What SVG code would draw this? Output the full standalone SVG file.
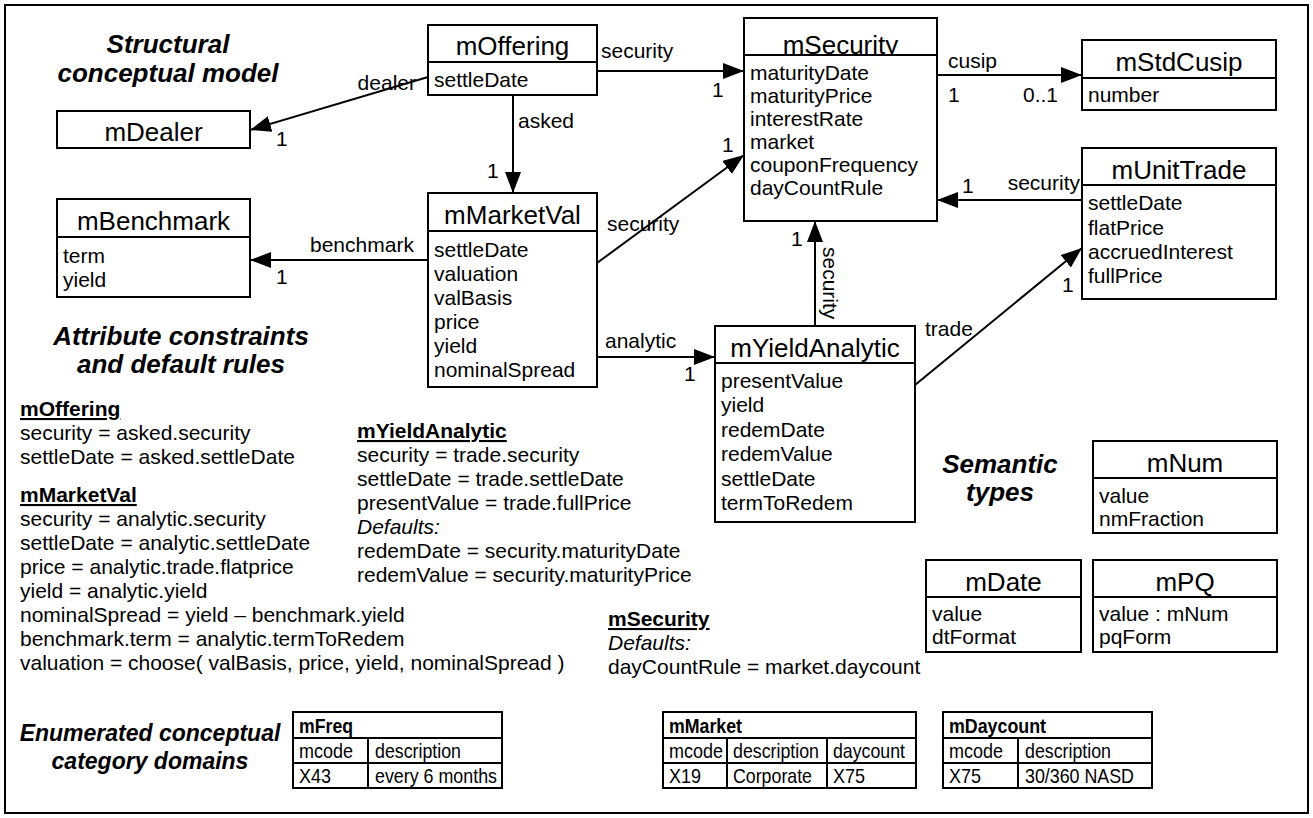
<svg xmlns="http://www.w3.org/2000/svg" width="1313" height="818" viewBox="0 0 1313 818">
<defs>
<style>
.box{fill:#fff;stroke:#000;stroke-width:2}
.ln{stroke:#000;stroke-width:2;fill:none}
text{font-family:"Liberation Sans",Arial,sans-serif;fill:#000}
.hdr{font-size:26px;text-anchor:middle}
.att{font-size:21px}
.ttl{font-size:26px;font-weight:bold;font-style:italic;text-anchor:middle}
.ttl2{font-size:23px;font-weight:bold;font-style:italic;text-anchor:middle}
.lbl{font-size:21px}
.rule{font-size:21px}
.rh{font-size:21px;font-weight:bold;text-decoration:underline}
.it{font-style:italic}
.tb{font-size:21px}
.tbh{font-size:21px;font-weight:bold}
.conn{stroke:#000;stroke-width:2;fill:none;marker-end:url(#arr)}
</style>
<marker id="arr" markerUnits="userSpaceOnUse" markerWidth="22" markerHeight="18" refX="21" refY="8" orient="auto">
<path d="M0,0 L21,8 L0,16 Z" fill="#000"/>
</marker>
</defs>
<rect x="0" y="0" width="1313" height="818" fill="#fff"/>
<rect x="5" y="5" width="1303" height="808" fill="none" stroke="#000" stroke-width="2"/>

<g id="titles">
<text class="ttl" x="168" y="53">Structural</text>
<text class="ttl" x="168" y="82">conceptual model</text>
<text class="ttl" x="181" y="345">Attribute constraints</text>
<text class="ttl" x="181" y="373">and default rules</text>
<text class="ttl" x="1000" y="473">Semantic</text>
<text class="ttl" x="1000" y="501">types</text>
<text class="ttl2" x="150" y="741">Enumerated conceptual</text>
<text class="ttl2" x="150" y="769">category domains</text>
</g>

<g id="connectors">
<line class="conn" x1="428" y1="77" x2="250" y2="130"/>
<line class="conn" x1="597" y1="71" x2="744" y2="71"/>
<line class="conn" x1="513" y1="95" x2="513" y2="193"/>
<line class="conn" x1="597" y1="263" x2="744" y2="155"/>
<line class="conn" x1="428" y1="260" x2="250" y2="260"/>
<line class="conn" x1="597" y1="357" x2="715" y2="357"/>
<line class="conn" x1="815" y1="326" x2="815" y2="221"/>
<line class="conn" x1="937" y1="75" x2="1082" y2="75"/>
<line class="conn" x1="1082" y1="200" x2="937" y2="200"/>
<line class="conn" x1="915" y1="385" x2="1082" y2="248"/>
<text class="lbl" x="416" y="90" text-anchor="end">dealer</text>
<text class="lbl" x="276" y="146">1</text>
<text class="lbl" x="601" y="58">security</text>
<text class="lbl" x="712" y="97">1</text>
<text class="lbl" x="518" y="128">asked</text>
<text class="lbl" x="487" y="178">1</text>
<text class="lbl" x="607" y="231">security</text>
<text class="lbl" x="722" y="152">1</text>
<text class="lbl" x="310" y="252">benchmark</text>
<text class="lbl" x="276" y="284">1</text>
<text class="lbl" x="605" y="348">analytic</text>
<text class="lbl" x="684" y="381">1</text>
<text class="lbl" x="791" y="246">1</text>
<text class="lbl" transform="translate(823,247) rotate(90)">security</text>
<text class="lbl" x="948" y="68">cusip</text>
<text class="lbl" x="948" y="102">1</text>
<text class="lbl" x="1058" y="102" text-anchor="end">0..1</text>
<text class="lbl" x="1080" y="190" text-anchor="end">security</text>
<text class="lbl" x="962" y="193">1</text>
<text class="lbl" x="925" y="336">trade</text>
<text class="lbl" x="1062" y="292">1</text>
</g>

<g id="mOffering">
<rect class="box" x="428" y="25" width="169" height="70"/>
<text class="hdr" x="512.5" y="55">mOffering</text>
<rect class="box" x="428" y="62" width="169" height="33"/>
<text class="att" x="434" y="87">settleDate</text>
</g>

<g id="mDealer">
<rect class="box" x="57" y="111" width="193" height="37"/>
<text class="hdr" x="153.5" y="141">mDealer</text>
</g>

<g id="mSecurity">
<rect class="box" x="744" y="18" width="193" height="203"/>
<text class="hdr" x="840.5" y="54">mSecurity</text>
<rect class="box" x="744" y="55" width="193" height="166"/>
<text class="att" x="750" y="80">maturityDate</text>
<text class="att" x="750" y="103">maturityPrice</text>
<text class="att" x="750" y="126">interestRate</text>
<text class="att" x="750" y="149">market</text>
<text class="att" x="750" y="172">couponFrequency</text>
<text class="att" x="750" y="195">dayCountRule</text>
</g>

<g id="mStdCusip">
<rect class="box" x="1082" y="40" width="194" height="70"/>
<text class="hdr" x="1179" y="71">mStdCusip</text>
<rect class="box" x="1082" y="78" width="194" height="32"/>
<text class="att" x="1088" y="102">number</text>
</g>

<g id="mUnitTrade">
<rect class="box" x="1082" y="148" width="194" height="151"/>
<text class="hdr" x="1179" y="179">mUnitTrade</text>
<rect class="box" x="1082" y="185" width="194" height="114"/>
<text class="att" x="1088" y="210">settleDate</text>
<text class="att" x="1088" y="235">flatPrice</text>
<text class="att" x="1088" y="259">accruedInterest</text>
<text class="att" x="1088" y="283">fullPrice</text>
</g>

<g id="mBenchmark">
<rect class="box" x="57" y="199" width="193" height="98"/>
<text class="hdr" x="153.5" y="230">mBenchmark</text>
<rect class="box" x="57" y="237" width="193" height="60"/>
<text class="att" x="63" y="263">term</text>
<text class="att" x="63" y="287">yield</text>
</g>

<g id="mMarketVal">
<rect class="box" x="428" y="193" width="169" height="194"/>
<text class="hdr" x="512.5" y="224">mMarketVal</text>
<rect class="box" x="428" y="231" width="169" height="156"/>
<text class="att" x="434" y="257">settleDate</text>
<text class="att" x="434" y="281">valuation</text>
<text class="att" x="434" y="305">valBasis</text>
<text class="att" x="434" y="329">price</text>
<text class="att" x="434" y="353">yield</text>
<text class="att" x="434" y="377">nominalSpread</text>
</g>

<g id="mYieldAnalytic">
<rect class="box" x="715" y="326" width="200" height="196"/>
<text class="hdr" x="815" y="357">mYieldAnalytic</text>
<rect class="box" x="715" y="363" width="200" height="159"/>
<text class="att" x="721" y="388">presentValue</text>
<text class="att" x="721" y="412">yield</text>
<text class="att" x="721" y="437">redemDate</text>
<text class="att" x="721" y="461">redemValue</text>
<text class="att" x="721" y="486">settleDate</text>
<text class="att" x="721" y="510">termToRedem</text>
</g>

<g id="mNum">
<rect class="box" x="1093" y="441" width="184" height="92"/>
<text class="hdr" x="1185" y="472">mNum</text>
<rect class="box" x="1093" y="478" width="184" height="55"/>
<text class="att" x="1099" y="503">value</text>
<text class="att" x="1099" y="526">nmFraction</text>
</g>

<g id="mDate">
<rect class="box" x="926" y="560" width="155" height="92"/>
<text class="hdr" x="1003.5" y="591">mDate</text>
<rect class="box" x="926" y="597" width="155" height="55"/>
<text class="att" x="932" y="621">value</text>
<text class="att" x="932" y="644">dtFormat</text>
</g>

<g id="mPQ">
<rect class="box" x="1093" y="560" width="184" height="92"/>
<text class="hdr" x="1185" y="591">mPQ</text>
<rect class="box" x="1093" y="597" width="184" height="55"/>
<text class="att" x="1099" y="621">value : mNum</text>
<text class="att" x="1099" y="644">pqForm</text>
</g>

<g id="rules">
<text class="rh" x="20" y="416">mOffering</text>
<text class="rule" x="20" y="440">security = asked.security</text>
<text class="rule" x="20" y="464">settleDate = asked.settleDate</text>
<text class="rh" x="20" y="502">mMarketVal</text>
<text class="rule" x="20" y="526">security = analytic.security</text>
<text class="rule" x="20" y="550">settleDate = analytic.settleDate</text>
<text class="rule" x="20" y="574">price = analytic.trade.flatprice</text>
<text class="rule" x="20" y="598">yield = analytic.yield</text>
<text class="rule" x="20" y="622">nominalSpread = yield – benchmark.yield</text>
<text class="rule" x="20" y="646">benchmark.term = analytic.termToRedem</text>
<text class="rule" x="20" y="670">valuation = choose( valBasis, price, yield, nominalSpread )</text>
<text class="rh" x="357" y="438">mYieldAnalytic</text>
<text class="rule" x="357" y="462">security = trade.security</text>
<text class="rule" x="357" y="486">settleDate = trade.settleDate</text>
<text class="rule" x="357" y="510">presentValue = trade.fullPrice</text>
<text class="rule it" x="357" y="534">Defaults:</text>
<text class="rule" x="357" y="558">redemDate = security.maturityDate</text>
<text class="rule" x="357" y="582">redemValue = security.maturityPrice</text>
<text class="rh" x="608" y="626">mSecurity</text>
<text class="rule it" x="608" y="650">Defaults:</text>
<text class="rule" x="608" y="674">dayCountRule = market.daycount</text>
</g>

<g id="mFreq">
<rect class="box" x="293" y="712" width="209" height="76"/>
<line class="ln" x1="293" y1="738" x2="502" y2="738"/>
<line class="ln" x1="293" y1="763" x2="502" y2="763"/>
<line class="ln" x1="368" y1="738" x2="368" y2="788"/>
<text class="tbh" x="299" y="733" textLength="54" lengthAdjust="spacingAndGlyphs">mFreq</text>
<text class="tb" x="299" y="758" textLength="54" lengthAdjust="spacingAndGlyphs">mcode</text>
<text class="tb" x="375" y="758" textLength="86" lengthAdjust="spacingAndGlyphs">description</text>
<text class="tb" x="299" y="783" textLength="32" lengthAdjust="spacingAndGlyphs">X43</text>
<text class="tb" x="375" y="783" textLength="122" lengthAdjust="spacingAndGlyphs">every 6 months</text>
</g>

<g id="mMarket">
<rect class="box" x="663" y="712" width="253" height="76"/>
<line class="ln" x1="663" y1="738" x2="916" y2="738"/>
<line class="ln" x1="663" y1="763" x2="916" y2="763"/>
<line class="ln" x1="727" y1="738" x2="727" y2="788"/>
<line class="ln" x1="827" y1="738" x2="827" y2="788"/>
<text class="tbh" x="669" y="733" textLength="73" lengthAdjust="spacingAndGlyphs">mMarket</text>
<text class="tb" x="669" y="758" textLength="54" lengthAdjust="spacingAndGlyphs">mcode</text>
<text class="tb" x="733" y="758" textLength="86" lengthAdjust="spacingAndGlyphs">description</text>
<text class="tb" x="833" y="758" textLength="72" lengthAdjust="spacingAndGlyphs">daycount</text>
<text class="tb" x="669" y="783" textLength="32" lengthAdjust="spacingAndGlyphs">X19</text>
<text class="tb" x="733" y="783" textLength="79" lengthAdjust="spacingAndGlyphs">Corporate</text>
<text class="tb" x="833" y="783" textLength="32" lengthAdjust="spacingAndGlyphs">X75</text>
</g>

<g id="mDaycount">
<rect class="box" x="943" y="712" width="209" height="76"/>
<line class="ln" x1="943" y1="738" x2="1152" y2="738"/>
<line class="ln" x1="943" y1="763" x2="1152" y2="763"/>
<line class="ln" x1="1018" y1="738" x2="1018" y2="788"/>
<text class="tbh" x="949" y="733" textLength="97" lengthAdjust="spacingAndGlyphs">mDaycount</text>
<text class="tb" x="949" y="758" textLength="54" lengthAdjust="spacingAndGlyphs">mcode</text>
<text class="tb" x="1025" y="758" textLength="86" lengthAdjust="spacingAndGlyphs">description</text>
<text class="tb" x="949" y="783" textLength="32" lengthAdjust="spacingAndGlyphs">X75</text>
<text class="tb" x="1025" y="783" textLength="109" lengthAdjust="spacingAndGlyphs">30/360 NASD</text>
</g>
</svg>
